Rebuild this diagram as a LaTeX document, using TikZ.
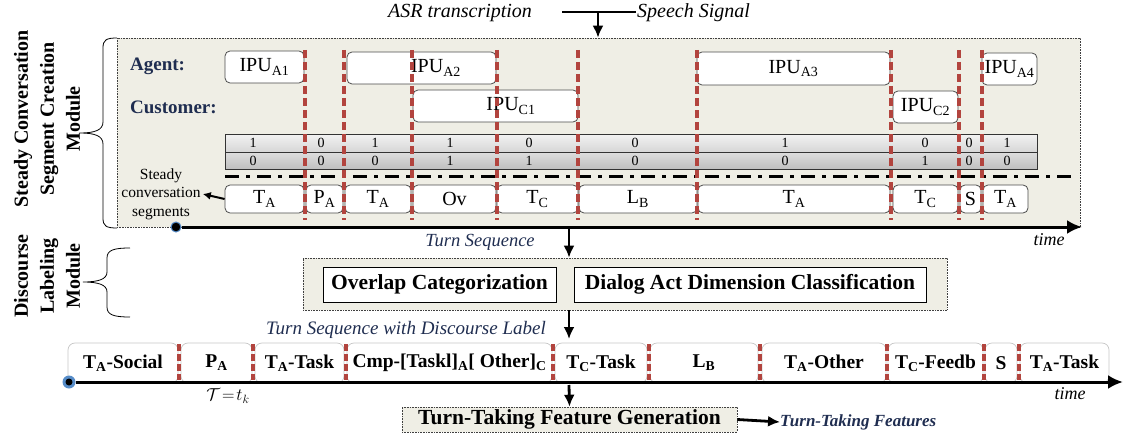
\documentclass[tikz,border=0pt]{standalone}
\usepackage{fontspec}
\setmainfont{Liberation Serif}
\usetikzlibrary{arrows.meta}
\definecolor{panel}{RGB}{239,238,229}
\definecolor{navy}{RGB}{31,45,80}
\definecolor{cut}{RGB}{178,68,62}
\definecolor{dotblue}{RGB}{86,140,200}
\newcommand\fs[2]{\fontsize{#1}{#2}\selectfont}
\newcommand\lsub[1]{\textsubscript{#1}}
% box node given by its corners: style, name, x1, y1, x2, y2, text
\newcommand\boxnode[7]{%
  \node[#1, minimum width={#5-#3}, minimum height={#6-#4}]
    (#2) at ({(#3+#5)/2},{(#4+#6)/2}) {#7};}
\tikzset{
  panelbox/.style={draw=black!75, densely dotted, fill=panel, line width=0.6pt, inner sep=0pt},
  ipubox/.style={draw=black!70, fill=white, rounded corners=5pt, line width=0.8pt,
                 inner sep=0pt, font=\fs{20}{24}},
  plainbox/.style={draw=black, fill=white, line width=0.8pt, inner sep=0pt, font=\fs{21.5}{25}\bfseries},
  bitrow/.style={draw=black!80, line width=0.6pt, inner sep=0pt},
  bit/.style={inner sep=0pt, font=\fs{14}{16}},
  cutline/.style={draw=cut, line width=3.2pt, dash pattern=on 8pt off 4pt},
  lblcut/.style={draw=cut, line width=3.2pt, dash pattern=on 7pt off 3pt},
  lblbox/.style={draw=black!22, fill=white, rounded corners=7pt, line width=0.7pt,
                 inner sep=0pt, font=\fs{19.5}{23}\bfseries},
  modlabel/.style={rotate=90, align=center, inner sep=0pt, font=\fs{20}{26}\bfseries},
  axis/.style={line width=3pt, -{Latex[length=15pt,width=14pt]}},
  flow/.style={line width=2.8pt, -{Latex[length=12pt,width=11pt]}},
  caption/.style={inner sep=0pt, font=\fs{19}{22}\itshape, text=navy},
}
\begin{document}
\begin{tikzpicture}[x=1pt,y=-1pt]
\useasboundingbox (0,0) rectangle (1125,436);

% ---------- input ----------
\node[inner sep=0pt, font=\fs{20}{24}\itshape] (asr) at (460,13) {ASR transcription};
\node[inner sep=0pt, font=\fs{20}{24}\itshape, anchor=west] (sig) at (637,13) {Speech Signal};
\coordinate (jl) at (562,12);
\coordinate (jr) at (636,12);
\coordinate (jm) at (598,12);

% ---------- steady conversation segment creation ----------
\boxnode{panelbox}{scm}{117}{38}{1080}{227}{}
\draw[line width=2.8pt] (jl) -- (jr);
\draw[flow] (jm) -- (jm |- scm.north);

\node[modlabel] (scmlbl) at (47,119) {Steady Conversation\\Segment Creation\\Module};
\draw[line width=0.8pt] (117,38) .. controls (106,38) and (103,40) .. (103,48) -- (103,122)
  .. controls (103,130) and (95,133) .. (80,133) .. controls (95,133) and (103,136) .. (103,144)
  -- (103,218) .. controls (103,226) and (106,228) .. (117,228);

\node[anchor=west, inner sep=0pt, font=\fs{19}{22}\bfseries, text=navy] (agent) at (130,66) {Agent:};
\node[anchor=west, inner sep=0pt, font=\fs{19}{22}\bfseries, text=navy] (cust) at (130,107) {Customer:};

\boxnode{ipubox}{ia1}{225}{51}{304}{83}{IPU\lsub{A1}}
\boxnode{ipubox}{ia2}{347}{52}{496}{84}{}
\node[inner sep=0pt, font=\fs{20}{24}] (ia2t) at (436,68) {IPU\lsub{A2}};
\boxnode{ipubox}{ia3}{697}{52}{890}{85}{IPU\lsub{A3}}
\boxnode{ipubox}{ia4}{982}{53}{1037}{85}{IPU\lsub{A4}}
\boxnode{ipubox}{ic1}{413}{90}{578}{122}{}
\node[inner sep=0pt, font=\fs{20}{24}] (ic1t) at (511,106) {IPU\lsub{C1}};
\boxnode{ipubox}{ic2}{893}{91}{958}{123}{IPU\lsub{C2}}

% speaker activity bits
\boxnode{bitrow, top color=black!5, bottom color=black!16}{rowa}{225}{134}{1037}{152}{}
\boxnode{bitrow, top color=black!13, bottom color=black!25}{rowc}{225}{152}{1037}{169}{}
\foreach \x/\a/\c [count=\i] in {253/1/0, 321/0/0, 375/1/0, 450/1/1, 529/0/1,
                                 635/0/0, 785/1/0, 925/0/1, 969/0/0, 1007/1/0} {
  \node[bit] (ba\i) at (\x,143) {\a};
  \node[bit] (bc\i) at (\x,160.5) {\c};
}
\draw[line width=3pt, dash pattern=on 14pt off 7pt on 4pt off 7pt] (225,176) -- (1078,176);

% steady conversation segments
\foreach \l/\r/\t [count=\i] in {225/304/{T\lsub{A}}, 306/343/{P\lsub{A}}, 345/411/{T\lsub{A}},
    413/496/{Ov}, 497/578/{T\lsub{C}}, 579/697/{L\lsub{B}}, 698/890/{T\lsub{A}},
    893/958/{T\lsub{C}}, 960/981/{S}, 983/1028/{T\lsub{A}}} {
  \boxnode{ipubox}{sg\i}{\l}{185}{\r}{213}{\t}
}
\foreach \x in {305,344,412,497,578,697,891,959,982}
  \draw[cutline] (\x,50) -- (\x,220);

\node[align=center, inner sep=0pt, font=\fs{15.5}{18.5}] (scs) at (161,194) {Steady\\conversation\\segments};
\draw[line width=2pt, -{Latex[length=8pt,width=8pt]}] (sg1.west) -- ([xshift=2pt]scs.east);

\node[circle, fill=black, draw=dotblue, line width=1pt, minimum size=10pt, inner sep=0pt] (o1) at (176,227) {};
\coordinate (e1) at (1082,227);
\draw[axis] (o1) -- (e1);
\node[inner sep=0pt, font=\fs{18}{20}\itshape] (time1) at (1049,240) {time};

% ---------- discourse labeling ----------
\coordinate (ts) at (569,227);
\node[caption, font=\fs{18.5}{22}\itshape] (tseq) at (480,242) {Turn Sequence};
\boxnode{panelbox}{dlm}{303}{258}{947}{310}{}
\draw[flow] (ts) -- (ts |- dlm.north);
\boxnode{plainbox}{ovl}{323}{267}{556}{302}{Overlap Categorization}
\boxnode{plainbox}{dad}{574}{267}{926}{302}{Dialog Act Dimension Classification}

\node[modlabel] (dlmlbl) at (47,276) {Discourse\\Labeling\\Module};
\draw[line width=0.8pt] (130,248) .. controls (114,248) and (107,250) .. (107,258) -- (107,272)
  .. controls (107,279) and (99,282) .. (83,282) .. controls (99,282) and (107,285) .. (107,292)
  -- (107,307) .. controls (107,315) and (114,317) .. (130,317);

\coordinate (a2end) at (569,339);
\node[caption] (tsdl) at (406,330) {Turn Sequence with Discourse Label};
\draw[flow] (ts |- dlm.south) -- (a2end);

% labelled turn sequence
\foreach \l/\r/\t [count=\i] in {68/178/{T\lsub{A}-Social}, 181/252/{P\lsub{A}}, 255/344/{T\lsub{A}-Task},
    347/552/{Cmp-[Taskl]\lsub{A}[ Other]\lsub{C}}, 555/647/{T\lsub{C}-Task}, 650/758/{L\lsub{B}},
    762/886/{T\lsub{A}-Other}, 888/983/{T\lsub{C}-Feedb}, 985/1017/{S}, 1020/1109/{T\lsub{A}-Task}} {
  \boxnode{lblbox}{lb\i}{\l}{343}{\r}{383}{\t}
}
\foreach \x in {179,253,346,553,649,760,887,984,1019}
  \draw[lblcut] (\x,344) -- (\x,380);

\node[circle, fill=dotblue, minimum size=13pt, inner sep=0pt] (o2) at (69,382) {};
\fill (o2.center) circle[radius=3.5pt];
\coordinate (e2) at (1123,382);
\draw[axis] (o2) -- (e2);
\node[inner sep=0pt, font=\fs{18}{20}\itshape] (time2) at (1070,394) {time};
\node[inner sep=0pt, font=\fs{17}{20}] (tk) at (228,396) {$\mathcal{T}\!=\!t_k$};

% ---------- feature generation ----------
\boxnode{panelbox, font=\fs{21.5}{25}\bfseries}{ttfg}{402}{407}{737}{432}{Turn-Taking Feature Generation}
\draw[flow] (569,385) -- (ttfg.north);
\node[anchor=west, inner sep=0pt, font=\fs{17}{20}\bfseries\itshape, text=navy] (ttf) at (780,422) {Turn-Taking Features};
\draw[flow] (ttfg.east) -- (ttf.west);
\end{tikzpicture}
\end{document}
